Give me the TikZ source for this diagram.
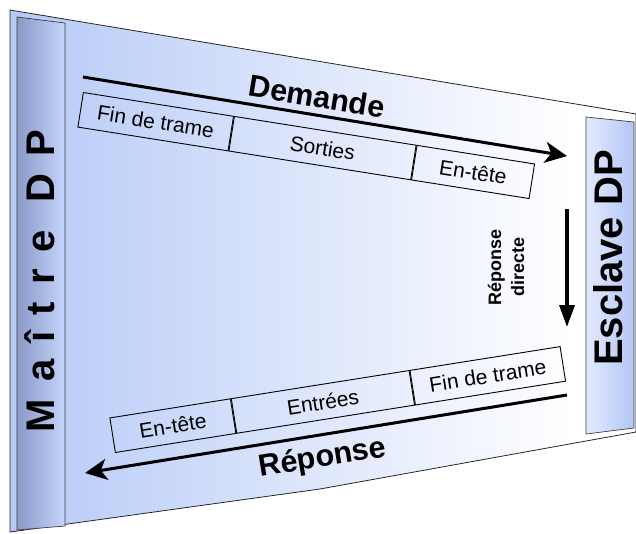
\documentclass[tikz,border=0pt]{standalone}
\usepackage{fontspec}
\setmainfont{Liberation Sans}
\usetikzlibrary{arrows.meta}
\definecolor{bgblue}{HTML}{B6C9F7}
\definecolor{lbarL}{HTML}{8A99C6}
\definecolor{lbarR}{HTML}{C6D5FC}
\definecolor{rbarL}{HTML}{E4EBFE}
\definecolor{rbarR}{HTML}{B2C5F6}
\begin{document}
\begin{tikzpicture}[x=1pt,y=-1pt,
  cell/.style={draw=black, line width=0.9pt, inner sep=0pt, minimum height=35pt,
    font=\fontsize{21}{24}\selectfont},
  bigarrow/.style={line width=3pt, -{Stealth[length=22pt,width=21pt,inset=6pt]}},
  bigarrowback/.style={line width=3pt, {Stealth[length=22pt,width=21pt,inset=6pt]}-},
  vertarrow/.style={line width=3.5pt, -{Triangle[length=22pt,width=15pt]}},
  bigtitle/.style={font=\bfseries\fontsize{40}{40}\selectfont, inner sep=0pt},
  arrowlabel/.style={font=\bfseries\fontsize{30.5}{32}\selectfont, inner sep=0pt},
  barline/.style={draw=black!75, line width=0.7pt}]
\useasboundingbox (0,0) rectangle (636,533);

% background panel
\begin{scope}
  \clip (10,10) -- (636,114) -- (636,432) -- (320,489) -- (10,532) -- cycle;
  \fill[white] (0,0) rectangle (636,533);
  \shade[left color=bgblue, right color=white] (10,0) rectangle (570,533);
\end{scope}
\draw[draw=black!85, line width=0.8pt] (10,10) -- (636,114) -- (636,432) -- (320,489) -- (10,532) -- cycle;

% side bars
\draw[barline, left color=lbarL, right color=lbarR] (17,17) -- (65,23) -- (65,526) -- (17,530) -- cycle;
\draw[barline, left color=rbarL, right color=rbarR] (586,117) -- (634,122) -- (634,428) -- (586,434) -- cycle;
\node[bigtitle, rotate=90] (maitre) at (40,281) {\addfontfeature{LetterSpace=42}Maître DP};
\node[bigtitle, rotate=90] (esclave) at (608,258) {Esclave DP};

% request frame
\node[cell, rotate=-9, anchor=north west, minimum width=152pt] (fin1) at (83,92) {Fin de trame};
\node[cell, rotate=-9, anchor=north west, minimum width=184pt] (sort) at (fin1.north east) {Sorties};
\node[cell, rotate=-9, anchor=north west, minimum width=119pt] (ent1) at (sort.north east) {En-tête};

% response frame
\node[cell, rotate=9, anchor=south west, minimum width=122pt] (ent2) at (115,453) {En-tête};
\node[cell, rotate=9, anchor=south west, minimum width=180pt] (entr) at (ent2.south east) {Entrées};
\node[cell, rotate=9, anchor=south west, minimum width=152pt] (fin2) at (entr.south east) {Fin de trame};

% arrows
\coordinate (d1) at (83,77);
\coordinate (d2) at (567,156);
\draw[bigarrow] (d1) -- (d2) node[arrowlabel, pos=0.477, sloped, above=6pt] (dem) {Demande};

\coordinate (r1) at (85,473);
\coordinate (r2) at (567,395);
\draw[bigarrowback] (r1) -- (r2) node[arrowlabel, pos=0.485, sloped, below=8pt] (rep) {Réponse};

\coordinate (v1) at (567,209);
\coordinate (v2) at (567,327);
\draw[vertarrow] (v1) -- (v2);
\node[rotate=90, align=center, inner sep=0pt, font=\bfseries\fontsize{18}{23}\selectfont] (repdir) at (506,267) {Réponse\\directe};
\end{tikzpicture}
\end{document}
